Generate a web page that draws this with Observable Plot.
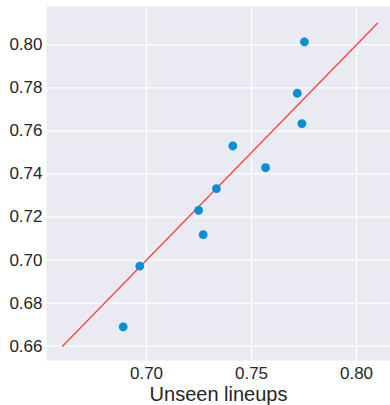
<!DOCTYPE html>
<html>
<head>
<meta charset="utf-8">
<script src="https://cdn.jsdelivr.net/npm/d3@7"></script>
<script src="https://cdn.jsdelivr.net/npm/@observablehq/plot@0.6"></script>
<style>
  html, body { margin: 0; padding: 0; background: #ffffff; }
  #chart svg { display: block; }
</style>
</head>
<body>
<div id="chart"></div>
<script>
// Data
const unseen = [0.6889, 0.6968, 0.7248, 0.7270, 0.7333, 0.7411, 0.7567, 0.7718, 0.7740, 0.7752];
const predicted = [0.6690, 0.6972, 0.7231, 0.7118, 0.7332, 0.7530, 0.7429, 0.7775, 0.7634, 0.8014];
const diagonal = [0.66, 0.81];
const xTicks = [0.70, 0.75, 0.80];
const yTicks = [0.66, 0.68, 0.70, 0.72, 0.74, 0.76, 0.78, 0.80];
const xLabel = "Unseen lineups";

const points = unseen.map((x, i) => ({x, y: predicted[i]}));
const line = diagonal.map(v => ({x: v, y: v}));

const chart = Plot.plot({
  width: 390,
  height: 405,
  marginLeft: 46,
  marginRight: 0,
  marginTop: 6,
  marginBottom: 45,
  style: {fontFamily: "'Liberation Sans', Arial, sans-serif", fontSize: "17px", color: "#262626", background: "#ffffff"},
  x: {domain: [0.65238, 0.81619], ticks: xTicks},
  y: {domain: [0.65336, 0.81779], ticks: yTicks},
  marks: [
    Plot.frame({fill: "#eaeaf2", stroke: null}),
    Plot.gridX(xTicks, {stroke: "#ffffff", strokeOpacity: 1, strokeWidth: 1.3}),
    Plot.gridY(yTicks, {stroke: "#ffffff", strokeOpacity: 1, strokeWidth: 1.3}),
    Plot.axisX(xTicks, {tickSize: 0, tickPadding: 6, tickFormat: d3.format(".2f"), label: null, fontSize: 17}),
    Plot.axisY(yTicks, {tickSize: 0, tickPadding: 4, tickFormat: d3.format(".2f"), label: null, fontSize: 17}),
    Plot.line(line, {x: "x", y: "y", stroke: "#ff4040", strokeWidth: 1.3}),
    Plot.dot(points, {x: "x", y: "y", r: 4.4, fill: "#008fd5", stroke: null}),
    Plot.text([xLabel], {frameAnchor: "bottom", dy: 40, lineAnchor: "bottom", fontSize: 20, fill: "#262626", text: d => d})
  ]
});
document.getElementById("chart").appendChild(chart);
</script>
</body>
</html>
